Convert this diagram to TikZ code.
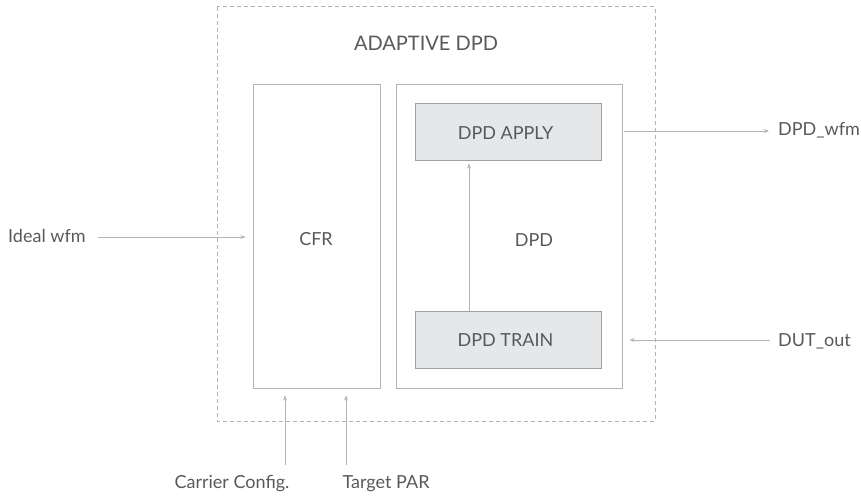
\documentclass[tikz,border=0pt]{standalone}
\usepackage{fontspec}
\setmainfont{Lato}
\usetikzlibrary{arrows.meta}
\definecolor{ln}{HTML}{B3B3B3}
\definecolor{tx}{HTML}{58595B}
\definecolor{fl}{HTML}{E6E7E8}
\begin{document}
\begin{tikzpicture}[x=1pt,y=-1pt,
  box/.style={draw=ln,line width=1pt,inner sep=0pt},
  subbox/.style={draw=ln!90!black,fill=fl,line width=1pt,inner sep=0pt},
  lbl/.style={text=tx,font=\fontsize{18}{20}\selectfont,inner sep=0pt},
  arr/.style={draw=ln,line width=0.9pt,-{Stealth[length=5pt,width=4pt]}}]
\useasboundingbox (0,0) rectangle (861,497);
\draw[ln,line width=1pt,dash pattern=on 4pt off 3pt] (217,7) rectangle (655,421);
\node[lbl,font=\fontsize{20}{22}\selectfont,anchor=base] (title) at (426,51) {ADAPTIVE DPD};
\node[box,minimum width=127pt,minimum height=303pt] (cfr) at (316.5,236.5) {};
\node[lbl,anchor=base] (cfrl) at (316,245) {CFR};
\node[box,minimum width=226pt,minimum height=303pt] (dpd) at (509,236.5) {};
\node[lbl,anchor=base] (dpdl) at (534,246) {DPD};
\node[subbox,minimum width=186pt,minimum height=57pt] (apply) at (508,132.5) {};
\node[lbl,anchor=base] (applyl) at (505.5,140) {DPD APPLY};
\node[subbox,minimum width=186pt,minimum height=57pt] (train) at (508,339.5) {};
\node[lbl,anchor=base] (trainl) at (505.5,346) {DPD TRAIN};
\draw[arr,shorten >=2pt] (train.north -| 469,0) -- (apply.south -| 469,0);
\node[lbl,anchor=base west] (ideal) at (8,242) {Ideal wfm};
\coordinate (idealstart) at (98,237);
\draw[arr,shorten >=7pt] (idealstart) -- (cfr.west |- idealstart);
\coordinate (wfmstart) at (624,131);
\node[lbl,anchor=base west] (wfm) at (778,136) {DPD\_wfm};
\draw[arr] (wfmstart) -- (769,131);
\node[lbl,anchor=base west] (dut) at (778,346) {DUT\_out};
\coordinate (dutstart) at (770,340);
\draw[arr,shorten >=7pt] (dutstart) -- (dpd.east |- dutstart);
\node[lbl,anchor=base] (carrier) at (232,488) {Carrier Config.};
\node[lbl,anchor=base] (target) at (386,488) {Target PAR};
\coordinate (c1) at (285,465);
\coordinate (c2) at (346,465);
\draw[arr,shorten >=7pt] (c1) -- (c1 |- cfr.south);
\draw[arr,shorten >=7pt] (c2) -- (c2 |- cfr.south);
\end{tikzpicture}
\end{document}
